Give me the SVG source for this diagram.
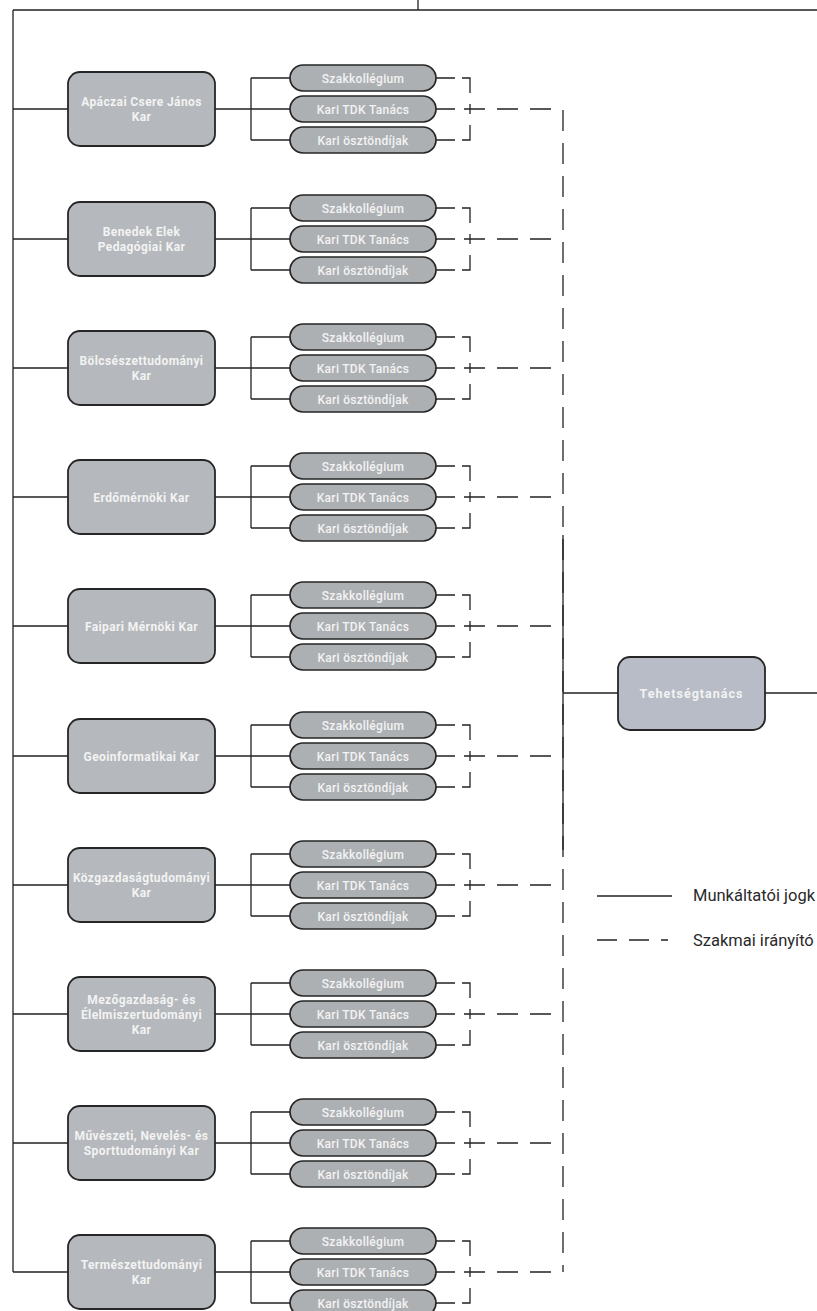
<svg xmlns="http://www.w3.org/2000/svg" width="817" height="1311" viewBox="0 0 817 1311">
<style>
.bg{fill:#ffffff}
.box{fill:#b5b8bc;stroke:#262626;stroke-width:1.8}
.pill{fill:#adb0b3;stroke:#262626;stroke-width:1.7}
.tb{fill:#f3f3f3;font-family:Roboto,"Liberation Sans",sans-serif;font-weight:700;font-size:12px;letter-spacing:0.4px;text-anchor:middle}
.tp{fill:#f3f3f3;font-family:Roboto,"Liberation Sans",sans-serif;font-weight:500;font-size:12px;letter-spacing:0.3px;text-anchor:middle}
.ln{fill:none;stroke:#222;stroke-width:1.3}
.ds{fill:none;stroke:#222;stroke-width:1.3;stroke-dasharray:21 12}
.lg{fill:#2a2a2a;font-family:Roboto,"Liberation Sans",sans-serif;font-size:16.5px}
</style>
<defs>
<g id="pills">
<rect class="pill" x="290" y="-44" width="146" height="26" rx="13"/>
<text class="tp" x="363" y="-26.5">Szakkollégium</text>
<rect class="pill" x="290" y="-13" width="146" height="26" rx="13"/>
<text class="tp" x="363" y="4.5">Kari TDK Tanács</text>
<rect class="pill" x="290" y="18" width="146" height="26" rx="13"/>
<text class="tp" x="363" y="35.5">Kari ösztöndíjak</text>
</g>
<g id="conn">
<path class="ln" d="M13,0H68M215,0H251M251,-31V31M251,-31H290M251,0H290M251,31H290M436,-31H455M436,0H455M436,31H455M462,-31H470V-16M470,16V31H462M470,-5V5"/>
<path class="ds" d="M464,0H559"/>
</g>
</defs>
<rect class="bg" x="0" y="0" width="817" height="1311"/>

<g id="connectors">
<path class="ln" d="M418,0V10M13,10H817M13,10V1272"/>
<path class="ds" d="M563,110V1272"/>
<path class="ln" d="M563,535V850M563,693H618M765,693H817"/>
<use href="#conn" y="109"/>
<use href="#conn" y="239"/>
<use href="#conn" y="368"/>
<use href="#conn" y="497"/>
<use href="#conn" y="626"/>
<use href="#conn" y="756"/>
<use href="#conn" y="885"/>
<use href="#conn" y="1014"/>
<use href="#conn" y="1143"/>
<use href="#conn" y="1272"/>
</g>

<g id="kar-apaczai" transform="translate(0,109)">
<rect class="box" x="68" y="-37" width="147" height="74" rx="12"/>
<text class="tb" x="141.5" y="-3">Apáczai Csere János</text>
<text class="tb" x="141.5" y="12">Kar</text>
<use href="#pills"/>
</g>
<g id="kar-benedek" transform="translate(0,239)">
<rect class="box" x="68" y="-37" width="147" height="74" rx="12"/>
<text class="tb" x="141.5" y="-3">Benedek Elek</text>
<text class="tb" x="141.5" y="12">Pedagógiai Kar</text>
<use href="#pills"/>
</g>
<g id="kar-bolcsesz" transform="translate(0,368)">
<rect class="box" x="68" y="-37" width="147" height="74" rx="12"/>
<text class="tb" x="141.5" y="-3">Bölcsészettudományi</text>
<text class="tb" x="141.5" y="12">Kar</text>
<use href="#pills"/>
</g>
<g id="kar-erdo" transform="translate(0,497)">
<rect class="box" x="68" y="-37" width="147" height="74" rx="12"/>
<text class="tb" x="141.5" y="4.5">Erdőmérnöki Kar</text>
<use href="#pills"/>
</g>
<g id="kar-faipari" transform="translate(0,626)">
<rect class="box" x="68" y="-37" width="147" height="74" rx="12"/>
<text class="tb" x="141.5" y="4.5">Faipari Mérnöki Kar</text>
<use href="#pills"/>
</g>
<g id="kar-geo" transform="translate(0,756)">
<rect class="box" x="68" y="-37" width="147" height="74" rx="12"/>
<text class="tb" x="141.5" y="4.5">Geoinformatikai Kar</text>
<use href="#pills"/>
</g>
<g id="kar-kozgaz" transform="translate(0,885)">
<rect class="box" x="68" y="-37" width="147" height="74" rx="12"/>
<text class="tb" x="141.5" y="-3">Közgazdaságtudományi</text>
<text class="tb" x="141.5" y="12">Kar</text>
<use href="#pills"/>
</g>
<g id="kar-mezo" transform="translate(0,1014)">
<rect class="box" x="68" y="-37" width="147" height="74" rx="12"/>
<text class="tb" x="141.5" y="-10.5">Mezőgazdaság- és</text>
<text class="tb" x="141.5" y="4.5">Élelmiszertudományi</text>
<text class="tb" x="141.5" y="19.5">Kar</text>
<use href="#pills"/>
</g>
<g id="kar-muveszeti" transform="translate(0,1143)">
<rect class="box" x="68" y="-37" width="147" height="74" rx="12"/>
<text class="tb" x="141.5" y="-3">Művészeti, Nevelés- és</text>
<text class="tb" x="141.5" y="12">Sporttudományi Kar</text>
<use href="#pills"/>
</g>
<g id="kar-termeszet" transform="translate(0,1272)">
<rect class="box" x="68" y="-37" width="147" height="74" rx="12"/>
<text class="tb" x="141.5" y="-3">Természettudományi</text>
<text class="tb" x="141.5" y="12">Kar</text>
<use href="#pills"/>
</g>

<g id="tehetsegtanacs">
<rect class="box" x="618" y="657" width="147" height="73" rx="12" style="fill:#b7bcc6"/>
<text class="tb" x="691.5" y="698" style="font-size:12.5px;letter-spacing:1px">Tehetségtanács</text>
</g>

<g id="legend">
<path class="ln" d="M597,896H672"/>
<path class="ln" d="M597,940H668" style="stroke-dasharray:20 12"/>
<text class="lg" x="693" y="901">Munkáltatói jogk</text>
<text class="lg" x="693" y="946">Szakmai irányító</text>
</g>
</svg>
